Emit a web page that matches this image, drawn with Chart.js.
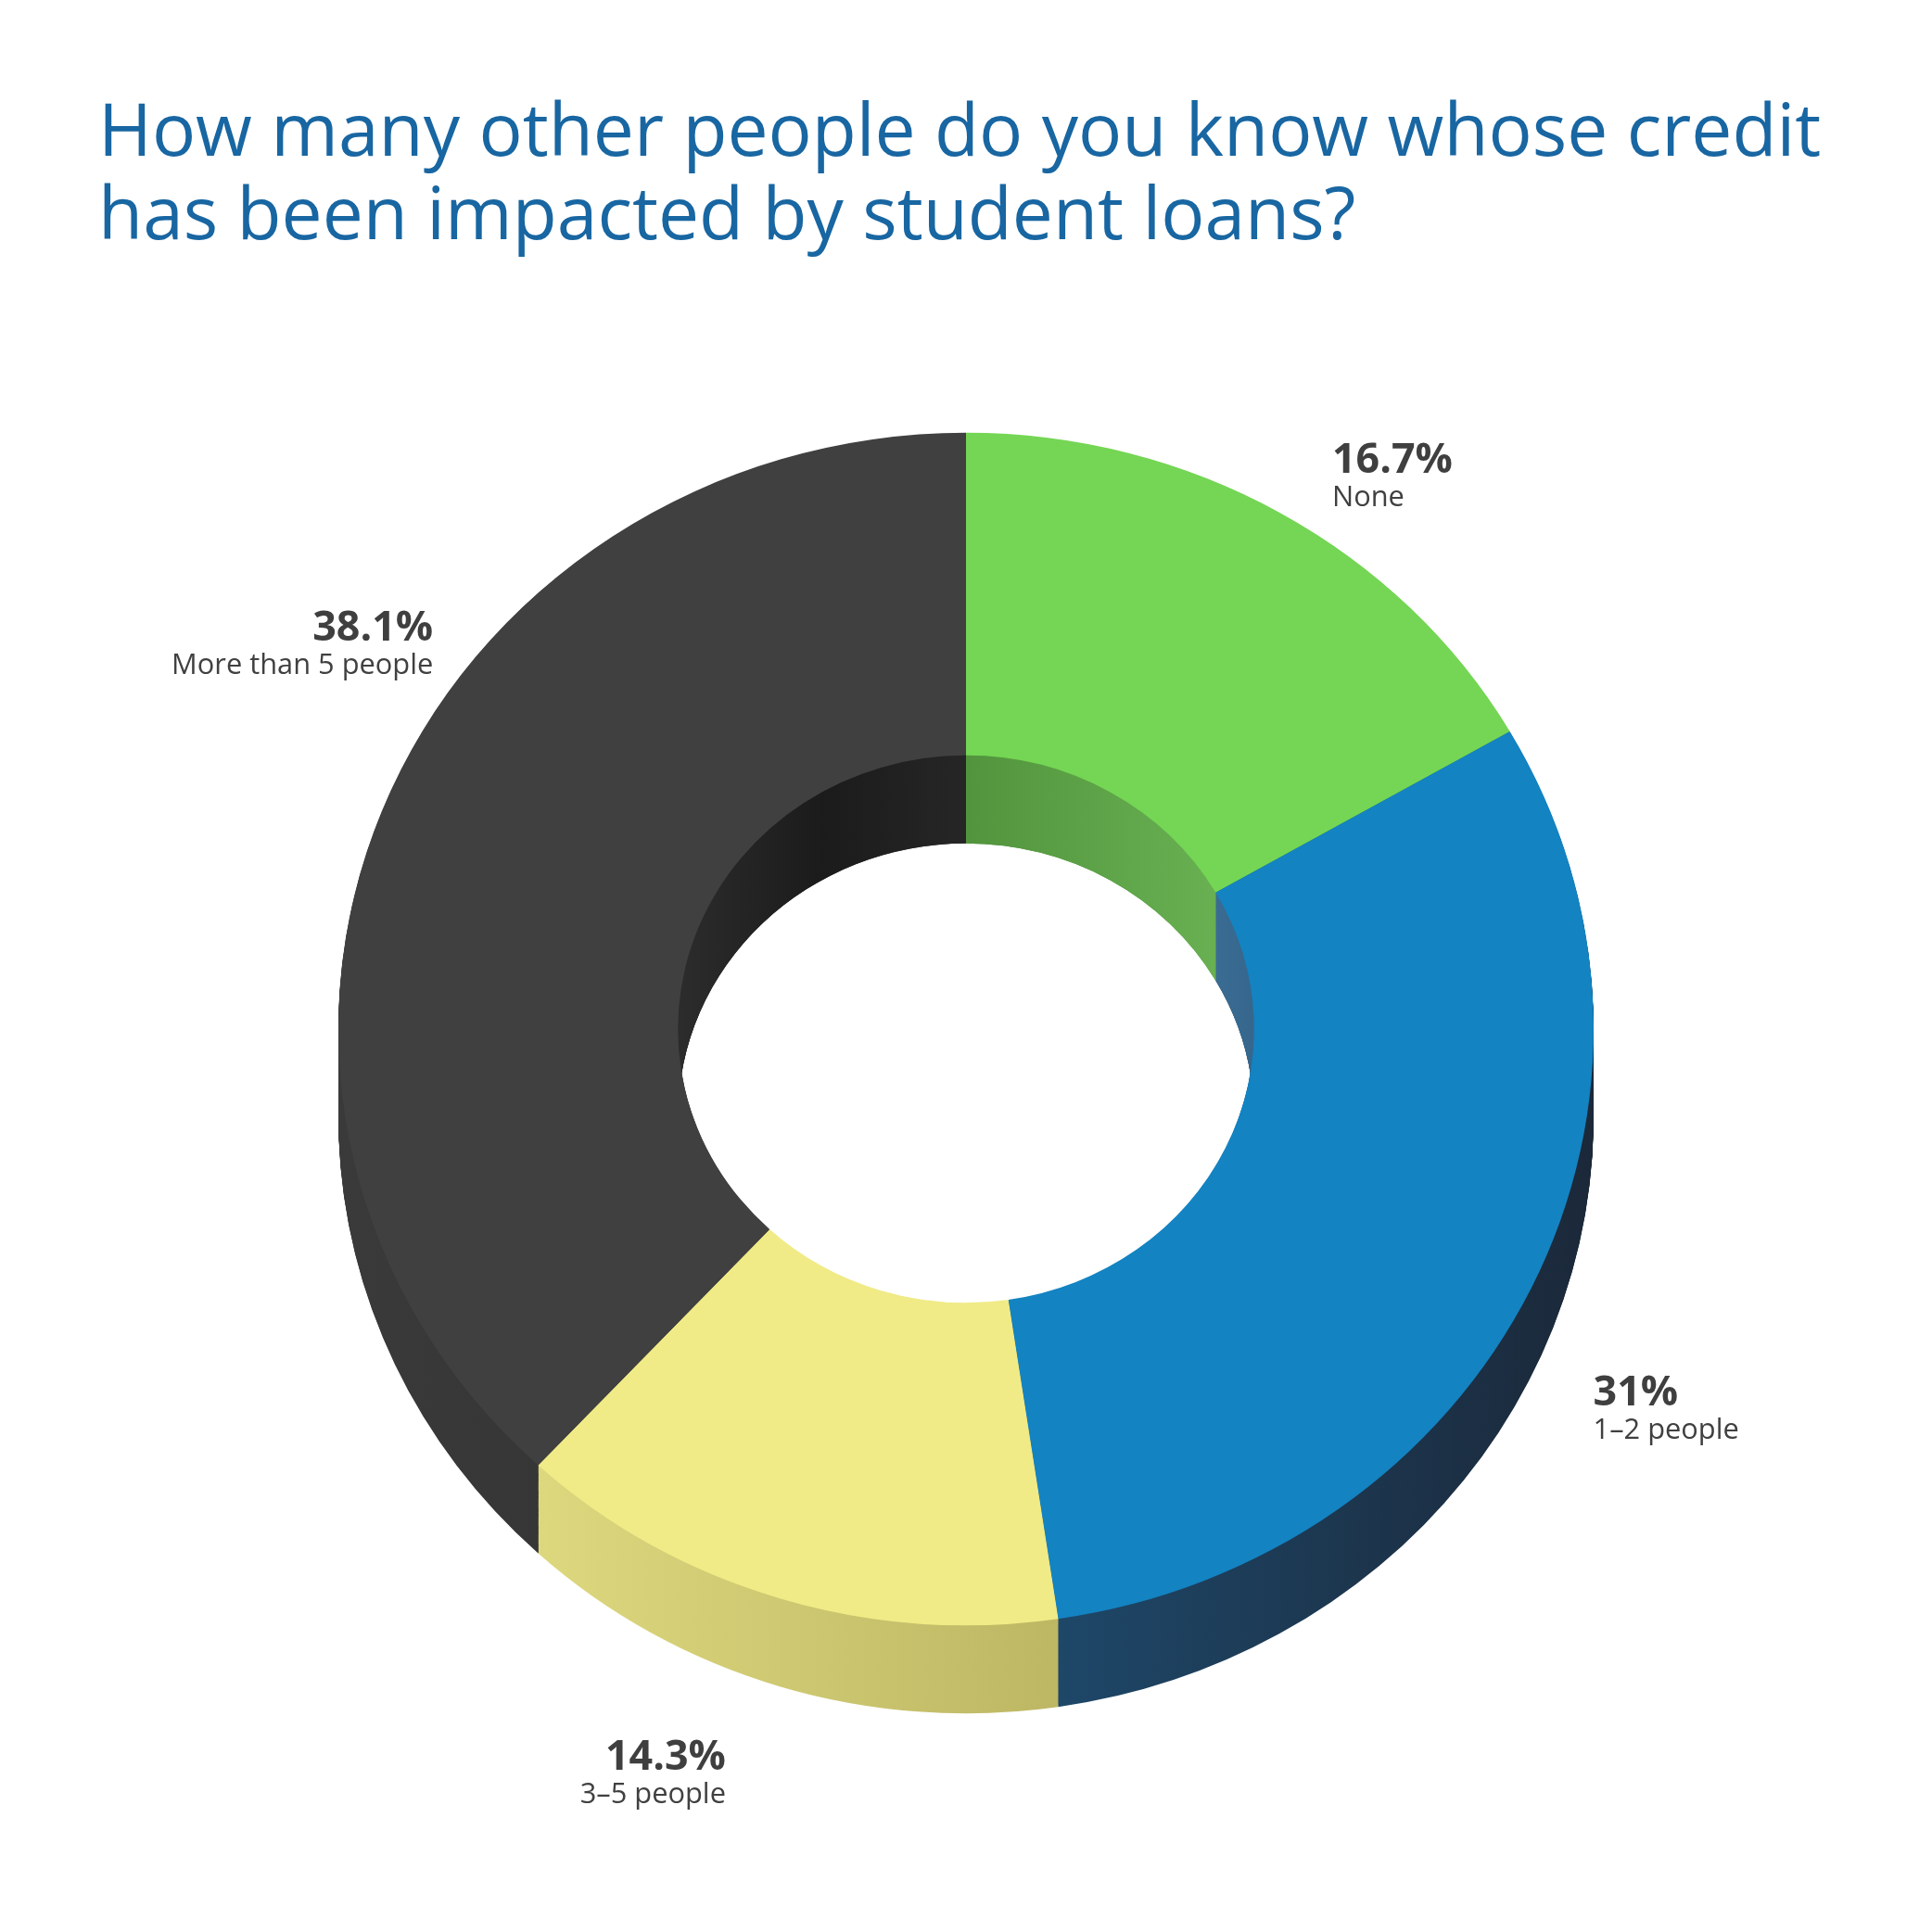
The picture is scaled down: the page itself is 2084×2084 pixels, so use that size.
<!DOCTYPE html>
<html>
<head>
<meta charset="utf-8">
<script src="https://cdn.jsdelivr.net/npm/chart.js@4.4.1/dist/chart.umd.min.js"></script>
<style>
  html, body { margin: 0; padding: 0; background: #fff; }
  #wrap { width: 2084px; height: 2084px; }
</style>
</head>
<body>
<div id="wrap"><canvas id="donut" width="2084" height="2084"></canvas></div>
<script>
// data (clockwise from 12 o'clock)
const titleLines = ['How many other people do you know whose credit', 'has been impacted by student loans?'];
const categories = ['None', '1\u20132 people', '3\u20135 people', 'More than 5 people'];
const shares = [16.7, 31, 14.3, 38.1];
const shareLabels = ['16.7%', '31%', '14.3%', '38.1%'];

// look
const topColors = ['#74d654', '#1383c2', '#f0eb86', '#404040'];
const sideColors = [['#5a9e45', '#4c8a3a'], ['#1e4768', '#1b2839'], ['#ddd87e', '#bdb764'], ['#3a3a3a', '#363636']];
const wallColors = [['#52943d', '#68b052'], ['#3a6c93', '#36668c'], ['#d0cb72', '#c4bf68'], ['#2c2c2c', '#1b1b1b', '#262626']];
// label placement: [angle nudge in degrees, radius factor]
const labelPlace = [[2, 1.10], [0, 1.11], [2, 1.16], [16, 1.07]];

const TILT = 0.95;   // vertical squash of the ring
const DEPTH = 95;    // thickness in px
const FONT = '"Open Sans", "Noto Sans", sans-serif';

function hGradient(c, x0, x1, stops) {
  const g = c.createLinearGradient(x0, 0, x1 > x0 ? x1 : x0 + 1, 0);
  stops.forEach((col, i) => g.addColorStop(stops.length > 1 ? i / (stops.length - 1) : 0, col));
  return g;
}

// x range of the arc's rim that faces the viewer (lower half) or the hole wall (upper half)
function rimRange(arc, r, lower) {
  let lo = Infinity, hi = -Infinity;
  for (let k = 0; k <= 100; k++) {
    const a = arc.startAngle + (arc.endAngle - arc.startAngle) * k / 100;
    if ((Math.sin(a) > 0) === lower) {
      const px = arc.x + r * Math.cos(a);
      lo = Math.min(lo, px); hi = Math.max(hi, px);
    }
  }
  if (lo === Infinity) { lo = arc.x - r; hi = arc.x + r; }
  return [lo, hi];
}

function slicePath(c, arc, dy) {
  c.beginPath();
  c.arc(arc.x, arc.y + dy, arc.outerRadius, arc.startAngle, arc.endAngle);
  c.arc(arc.x, arc.y + dy, arc.innerRadius, arc.endAngle, arc.startAngle, true);
  c.closePath();
}

const extrude = {
  id: 'extrude',
  beforeDatasetsDraw(chart) {
    const c = chart.ctx;
    const arcs = chart.getDatasetMeta(0).data;
    const cx = arcs[0].x, cy = arcs[0].y;
    c.save();
    c.translate(cx, cy); c.scale(1, TILT); c.translate(-cx, -cy);
    const dz = DEPTH / TILT;

    // outer side
    const sideFill = arcs.map((arc, i) => {
      const [a, b] = rimRange(arc, arc.outerRadius, true);
      return hGradient(c, a, b, sideColors[i]);
    });
    for (let t = dz; t > 0; t -= 1) {
      arcs.forEach((arc, i) => { c.fillStyle = sideFill[i]; slicePath(c, arc, t); c.fill(); });
    }

    // inner wall, seen through the hole
    const wallFill = arcs.map((arc, i) => {
      const [a, b] = rimRange(arc, arc.innerRadius, false);
      return hGradient(c, a, b, wallColors[i]);
    });
    c.save();
    c.beginPath();
    c.arc(cx, cy, arcs[0].innerRadius, 0, Math.PI * 2);
    c.clip();
    for (let t = dz; t > 0; t -= 1) {
      arcs.forEach((arc, i) => { c.fillStyle = wallFill[i]; slicePath(c, arc, t); c.fill(); });
    }
    c.restore();
  },
  afterDatasetsDraw(chart) {
    chart.ctx.restore();
  }
};

function fitFont(c, text, width, weight, guess) {
  c.font = weight + ' ' + guess + 'px ' + FONT;
  return guess * width / c.measureText(text).width;
}

const texts = {
  id: 'texts',
  afterDraw(chart) {
    const c = chart.ctx;
    c.save();
    // title
    const tSize = fitFont(c, titleLines[0], 1858, '400', 78);
    c.font = '400 ' + tSize.toFixed(1) + 'px ' + FONT;
    c.fillStyle = '#1866a2';
    c.textAlign = 'left';
    c.textBaseline = 'alphabetic';
    titleLines.forEach((line, i) => c.fillText(line, 106, 168 + i * 90));

    // slice labels
    const pSize = fitFont(c, shareLabels[0], 130, '700', 48);
    const nSize = fitFont(c, categories[3], 282, '400', 28);
    const arcs = chart.getDatasetMeta(0).data;
    arcs.forEach((arc, i) => {
      const mid = (arc.startAngle + arc.endAngle) / 2 + labelPlace[i][0] * Math.PI / 180;
      const r = arc.outerRadius * labelPlace[i][1];
      const s = Math.sin(mid);
      const px = arc.x + r * Math.cos(mid);
      const py = arc.y + r * s * TILT + (s > 0 ? DEPTH : 0);
      c.textAlign = Math.cos(mid) >= 0 ? 'left' : 'right';
      c.fillStyle = '#3f3f3f';
      c.font = '700 ' + pSize.toFixed(1) + 'px ' + FONT;
      c.fillText(shareLabels[i], px, py);
      c.fillStyle = '#404040';
      c.font = '400 ' + nSize.toFixed(1) + 'px ' + FONT;
      c.fillText(categories[i], px, py + 36);
    });
    c.restore();
  }
};

const ctx = document.getElementById('donut').getContext('2d');
new Chart(ctx, {
  type: 'doughnut',
  data: {
    labels: categories,
    datasets: [{
      data: shares,
      backgroundColor: topColors,
      borderWidth: 0,
      offset: 0,
      hoverOffset: 0,
      clip: false
    }]
  },
  options: {
    responsive: false,
    animation: false,
    events: [],
    cutout: '45.9%',
    layout: { padding: { left: 365, right: 365, top: 433, bottom: 297 } },
    plugins: {
      legend: { display: false },
      tooltip: { enabled: false },
      title: { display: false }
    }
  },
  plugins: [extrude, texts]
});
</script>
</body>
</html>
